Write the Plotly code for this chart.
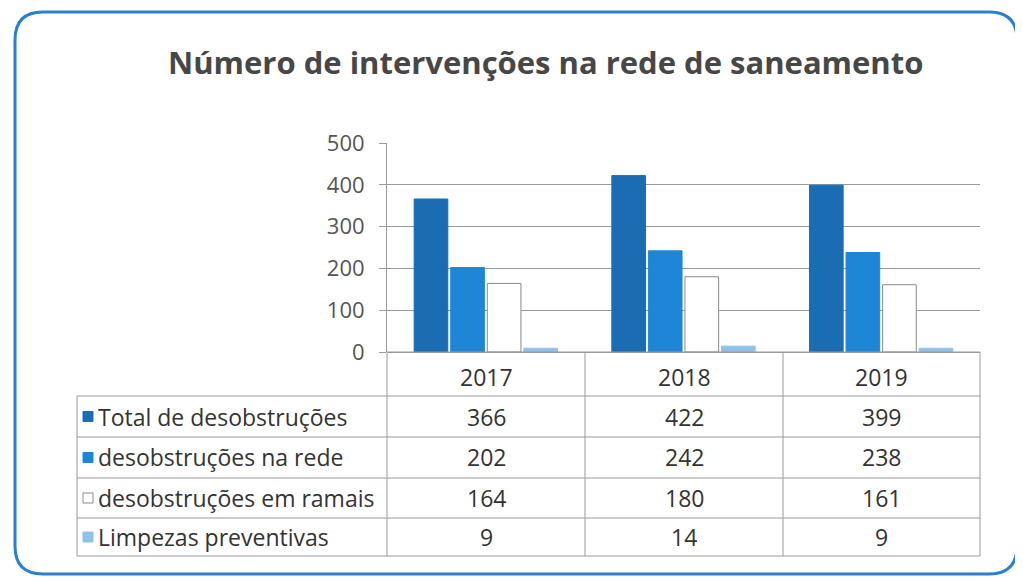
import plotly.graph_objects as go

W, H = 1023, 581
OFF = 8  # page body margin offset

years = ["2017", "2018", "2019"]
series_names = ["Total de desobstruções", "desobstruções na rede",
                "desobstruções em ramais", "Limpezas preventivas"]
total = [366, 422, 399]
rede = [202, 242, 238]
ramais = [164, 180, 161]
limpezas = [9, 14, 9]
series_values = [total, rede, ramais, limpezas]
y_ticks = [0, 100, 200, 300, 400, 500]

fill_colors = ["#1a6db3", "#1e86d6", "#ffffff", "#8fc2ea"]
line_colors = ["#1a6db3", "#1e86d6", "#8a8a8a", "#8fc2ea"]

def px(x):
    return (x - OFF) / W

def py(y):
    return 1 - (y - OFF) / H

# layout (pixels, as seen on screen)
ax_left, ax_right = 387, 980
y_zero, y_top = 352, 143
tbl_left = 77
row_edges = [352, 396, 437, 478, 518, 556]
col_edges = [ax_left, 585, 783, ax_right]

fig = go.Figure()
for name, vals, fc, lc in zip(series_names, series_values, fill_colors, line_colors):
    fig.add_trace(go.Bar(x=years, y=vals, name=name,
                         marker=dict(color=fc, line=dict(color=lc, width=1))))

font_main = "Open Sans"
grey_text = "#555555"

fig.update_layout(
    width=W, height=H,
    margin=dict(l=0, r=0, t=0, b=0, pad=0, autoexpand=False),
    paper_bgcolor="white", plot_bgcolor="white",
    showlegend=False,
    barmode="group", bargap=0.26, bargroupgap=0.08,
    xaxis=dict(domain=[px(ax_left), px(ax_right)], showticklabels=False,
               showgrid=False, zeroline=False, showline=False, ticks="",
               automargin=False),
    yaxis=dict(domain=[py(y_zero), py(y_top)], range=[0, 500],
               tickvals=y_ticks, ticktext=[str(v) for v in y_ticks],
               tickfont=dict(family=font_main, size=22, color=grey_text),
               showgrid=True, gridcolor="#9a9a9a", gridwidth=1,
               zeroline=True, zerolinecolor="#9a9a9a", zerolinewidth=1,
               showline=True, linecolor="#9a9a9a", linewidth=1,
               ticks="outside", ticklen=7, tickcolor="#9a9a9a",
               ticklabelstandoff=10, automargin=False),
)

shapes = []
annotations = []

# outer rounded border
x0, x1, yb0, yb1, r = 15, 1017, 12, 574, 28
path = (f"M {px(x0+r)},{py(yb0)} L {px(x1-r)},{py(yb0)} "
        f"Q {px(x1)},{py(yb0)} {px(x1)},{py(yb0+r)} "
        f"L {px(x1)},{py(yb1-r)} Q {px(x1)},{py(yb1)} {px(x1-r)},{py(yb1)} "
        f"L {px(x0+r)},{py(yb1)} Q {px(x0)},{py(yb1)} {px(x0)},{py(yb1-r)} "
        f"L {px(x0)},{py(yb0+r)} Q {px(x0)},{py(yb0)} {px(x0+r)},{py(yb0)} Z")
shapes.append(dict(type="path", xref="paper", yref="paper", path=path,
                   line=dict(color="#2b7fcf", width=3)))

tcol = "#9a9a9a"
for xe in col_edges:
    shapes.append(dict(type="line", xref="paper", yref="paper",
                       x0=px(xe), x1=px(xe), y0=py(row_edges[0]), y1=py(row_edges[-1]),
                       line=dict(color=tcol, width=1)))
shapes.append(dict(type="line", xref="paper", yref="paper",
                   x0=px(tbl_left), x1=px(tbl_left), y0=py(row_edges[1]), y1=py(row_edges[-1]),
                   line=dict(color=tcol, width=1)))
for i, ye in enumerate(row_edges):
    xs = ax_left if i == 0 else tbl_left
    shapes.append(dict(type="line", xref="paper", yref="paper",
                       x0=px(xs), x1=px(ax_right), y0=py(ye), y1=py(ye),
                       line=dict(color=tcol, width=1)))

cell_font = dict(family=font_main, size=23, color="#333333")
for j, yr in enumerate(years):
    cx = (col_edges[j] + col_edges[j + 1]) / 2
    cy = (row_edges[0] + row_edges[1]) / 2 + 3
    annotations.append(dict(x=px(cx), y=py(cy), xref="paper", yref="paper",
                            text=yr, showarrow=False, xanchor="center",
                            yanchor="middle", font=cell_font))
for i, (name, vals, fc, lc) in enumerate(zip(series_names, series_values, fill_colors, line_colors)):
    cy = (row_edges[i + 1] + row_edges[i + 2]) / 2
    shapes.append(dict(type="rect", xref="paper", yref="paper",
                       x0=px(83), x1=px(93), y0=py(cy + 5), y1=py(cy - 5),
                       fillcolor=fc, line=dict(color=lc, width=1)))
    annotations.append(dict(x=px(96), y=py(cy), xref="paper", yref="paper",
                            text=name, showarrow=False, xanchor="left",
                            yanchor="middle", font=cell_font))
    for j, v in enumerate(vals):
        cx = (col_edges[j] + col_edges[j + 1]) / 2
        annotations.append(dict(x=px(cx), y=py(cy), xref="paper", yref="paper",
                                text=str(v), showarrow=False, xanchor="center",
                                yanchor="middle", font=cell_font))

annotations.append(dict(x=px(545), y=py(62), xref="paper", yref="paper",
                        text="<b>Número de intervenções na rede de saneamento</b>",
                        showarrow=False, xanchor="center", yanchor="middle",
                        font=dict(family=font_main, size=31, color="#474747")))

fig.update_layout(shapes=shapes, annotations=annotations)
fig.write_html("out.html")
